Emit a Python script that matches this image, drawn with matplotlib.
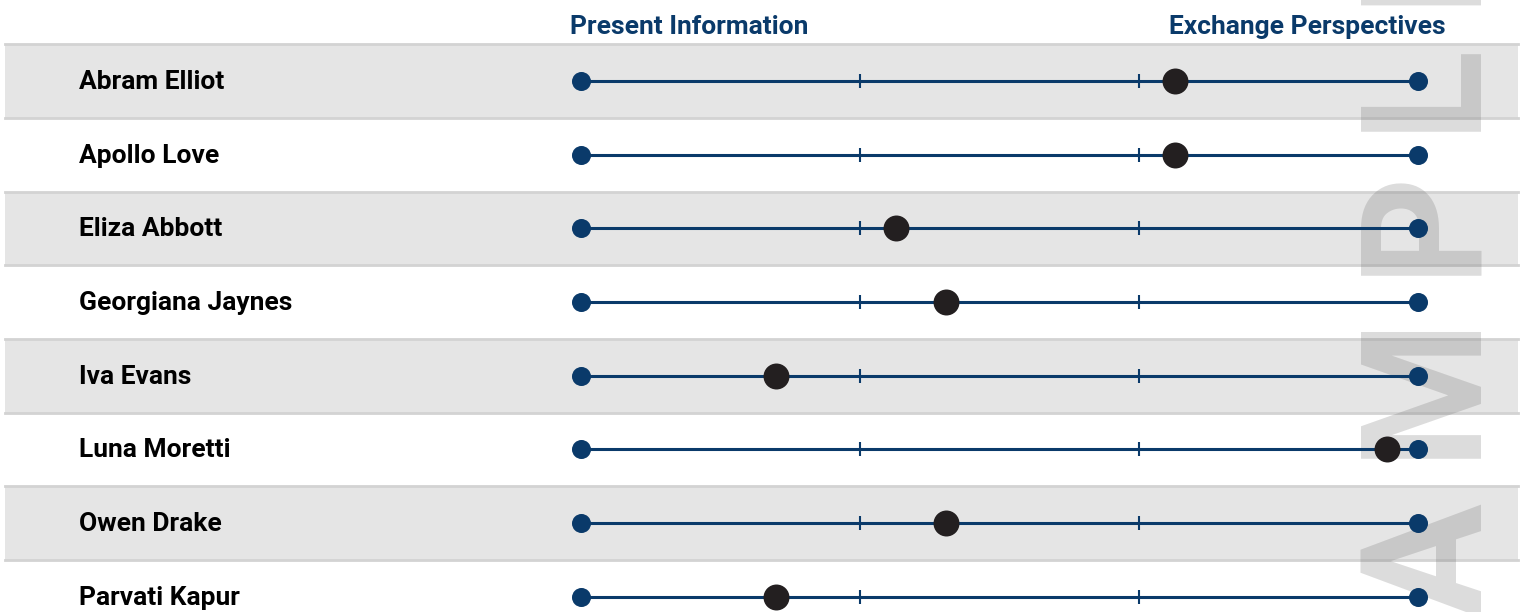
import numpy as np
import matplotlib.pyplot as plt
import matplotlib.transforms as mtransforms

# data (scale 1..4, ticks at 2 and 3)
names = ["Abram Elliot", "Apollo Love", "Eliza Abbott", "Georgiana Jaynes",
         "Iva Evans", "Luna Moretti", "Owen Drake", "Parvati Kapur"]
scores = [3.13, 3.13, 2.13, 2.31, 1.70, 3.89, 2.31, 1.70]
scale_min, scale_max = 1, 4
scale_ticks = [2, 3]
left_label = "Present Information"
right_label = "Exchange Perspectives"
watermark = "\u2009".join("SAMPLE")  # letter-spaced watermark

navy = "#0a3a6a"
dark = "#231f20"
band = "#e5e5e5"
rule = "#d3d3d3"

plt.rcParams['font.family'] = ['Roboto', 'DejaVu Sans']

W, H = 1525, 612
fig = plt.figure(figsize=(W / 100, H / 100), dpi=100)
ax = fig.add_axes([0, 0, 1, 1])

# map scale to pixel layout: min at x=581, max at x=1418
px_per_unit = (1418 - 581) / (scale_max - scale_min)
x_left = scale_min - 581 / px_per_unit
x_right = scale_max + (W - 1418) / px_per_unit
row_h = 73.7
y_top = -81 / row_h
y_bot = (H - 81) / row_h
ax.set_xlim(x_left, x_right)
ax.set_ylim(y_bot, y_top)
ax.axis('off')

n = len(names)
rows = np.arange(n)
band_x0, band_x1 = 5 / W, 1518 / W

# alternating bands and separator rules
for i in rows:
    if i % 2 == 0:
        ax.axhspan(i - 0.5, i + 0.5, xmin=band_x0, xmax=band_x1,
                   color=band, lw=0, zorder=0)
for i in range(-1, n):
    ax.axhline(i + 0.5, xmin=band_x0, xmax=band_x1, color=rule, lw=2, zorder=0.5)

# watermark, baseline on the right edge
ax.text(1482 / W, 1 - 338 / H, watermark, transform=ax.transAxes,
        rotation=90, rotation_mode='anchor', ha='center', va='baseline',
        fontsize=122, fontweight='bold', color='#686868', alpha=0.23,
        zorder=1)

trans = mtransforms.blended_transform_factory(ax.transAxes, ax.transData)
base_off = 8 / row_h  # baseline sits a little below the row centre
for i, (name, val) in enumerate(zip(names, scores)):
    ax.plot([scale_min, scale_max], [i, i], color=navy, lw=2.2, zorder=2,
            solid_capstyle='butt')
    ax.plot(scale_ticks, [i] * len(scale_ticks), ls='none', marker='|',
            ms=10, mew=1.5, color=navy, zorder=2)
    ax.plot([scale_min, scale_max], [i, i], ls='none', marker='o', ms=13.7,
            color=navy, mew=0, zorder=3)
    ax.plot([val], [i], ls='none', marker='o', ms=18.7, color=dark,
            mew=0, zorder=4)
    ax.text(79 / W, i + base_off, name, transform=trans, ha='left',
            va='baseline', fontsize=19, fontweight='bold', color='black')

ax.text(570 / W, 1 - 34 / H, left_label, transform=ax.transAxes,
        ha='left', va='baseline', fontsize=19, fontweight='bold', color=navy)
ax.text(1446 / W, 1 - 34 / H, right_label, transform=ax.transAxes,
        ha='right', va='baseline', fontsize=19, fontweight='bold', color=navy,
        zorder=5)

fig.savefig("out.png", dpi=100)
